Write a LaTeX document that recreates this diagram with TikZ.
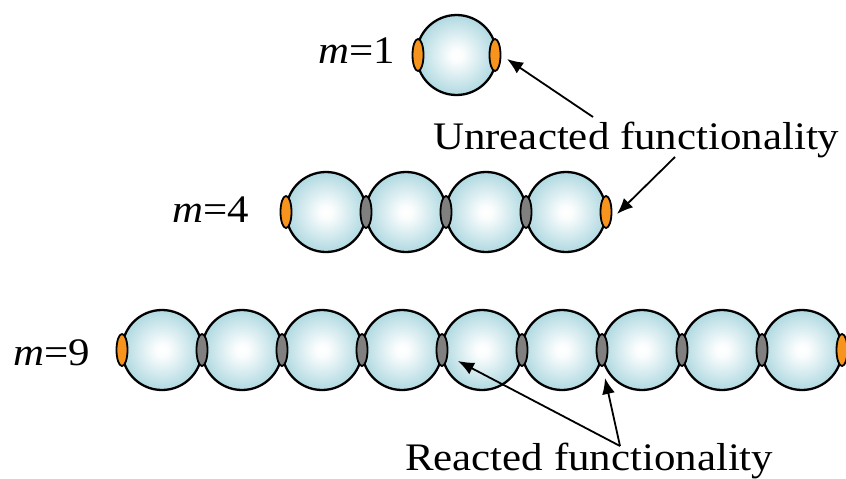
\documentclass[tikz,border=0pt]{standalone}
\usepackage{fontspec}
\setmainfont{Liberation Serif}[FakeStretch=1.1]
\usetikzlibrary{shapes.geometric,arrows.meta}
\definecolor{beadc}{RGB}{176,217,225}
\definecolor{freec}{RGB}{247,148,29}
\definecolor{bondc}{RGB}{128,128,128}
\pgfdeclareradialshading{beadshade}{\pgfpoint{0bp}{0bp}}{color(0bp)=(white); color(4bp)=(white!95!beadc); color(25bp)=(beadc); color(50bp)=(beadc)}
\tikzset{
  bead/.style={circle,draw=black,line width=2.3pt,minimum size=80pt,inner sep=0pt,shading=beadshade},
  freeend/.style={ellipse,draw=black,line width=1.8pt,fill=freec,minimum width=11pt,minimum height=32pt,inner sep=0pt},
  bondend/.style={freeend,fill=bondc},
  lab/.style={font=\fontsize{39}{46}\selectfont,inner sep=0pt,anchor=base west},
  arr/.style={-{Latex[length=16pt,width=13pt]},line width=1.8pt}
}
\begin{document}
\begin{tikzpicture}[x=1pt,y=-1pt]
\useasboundingbox (0,0) rectangle (846,479);
% m = 1
\node[bead] (a1) at (456.5,55) {};
\node[freeend] (ae0) at (418,55) {};
\node[freeend] (ae1) at (495,55) {};
\node[lab] (ma) at (318,63) {\textit{m}=1};
% m = 4
\foreach \i in {1,...,4} \node[bead] (b\i) at ({246+80*\i},212) {};
\node[freeend] (be0) at (286,212) {};
\foreach \i in {1,2,3} \node[bondend] (be\i) at ({286+80*\i},212) {};
\node[freeend] (be4) at (606,212) {};
\node[lab] (mb) at (172,222) {\textit{m}=4};
% m = 9
\foreach \i in {1,...,9} \node[bead] (c\i) at ({82+80*\i},350) {};
\node[freeend] (ce0) at (122,350) {};
\foreach \i in {1,...,8} \node[bondend] (ce\i) at ({122+80*\i},350) {};
\node[freeend] (ce9) at (842,350) {};
\node[lab] (mc) at (13,365) {\textit{m}=9};
% labels
\node[lab] (unr) at (433,149) {Unreacted functionality};
\node[lab] (rea) at (405,470) {Reacted functionality};
% arrow ends
\coordinate (t1) at (593,117);
\coordinate (t2) at (675,157);
\coordinate (t3) at (620,446);
\coordinate (h1) at (507,59);
\coordinate (h2) at (617,214);
\coordinate (h3) at (458,361);
\coordinate (h4) at (605,378);
\draw[arr] (t1) -- (h1);
\draw[arr] (t2) -- (h2);
\draw[arr] (t3) -- (h3);
\draw[arr] (t3) -- (h4);
\end{tikzpicture}
\end{document}
